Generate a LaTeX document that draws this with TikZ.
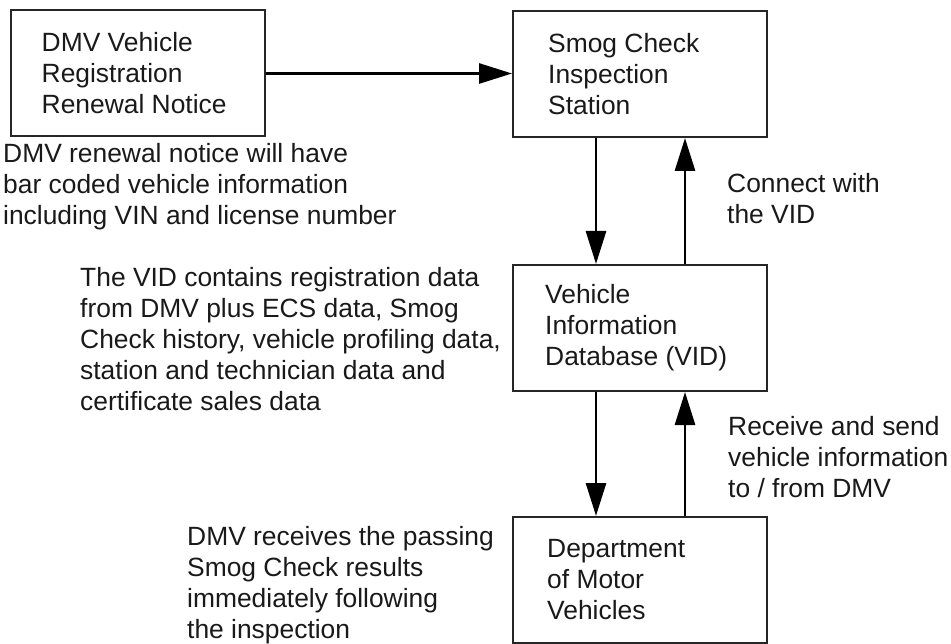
\documentclass[tikz,border=0pt]{standalone}
\usepackage{fontspec}
\setmainfont{Liberation Sans}
\usetikzlibrary{arrows.meta}
\begin{document}
\begin{tikzpicture}[x=1pt,y=-1pt,
  box/.style={draw=black!85, line width=2pt, minimum width=254pt, minimum height=126pt, inner sep=0pt},
  txt/.style={align=left, inner sep=0pt, font=\fontsize{26.4}{31}\selectfont, text=black!90},
  arr/.style={line width=2.8pt, -{Triangle[length=33pt,width=20pt]}}]
\useasboundingbox (0,0) rectangle (951,644);
% boxes
\node[box] (dmv) at (137.5,73.5) {};
\node[box] (sm) at (640,74) {};
\node[box] (vid) at (640,328) {};
\node[box] (dept) at (640,580) {};
% box texts
\node[txt, anchor=west] (dmvt) at ([xshift=32pt]dmv.west) {DMV Vehicle\\Registration\\Renewal Notice};
\node[txt, anchor=west] (smt) at ([xshift=36pt]sm.west) {Smog Check\\Inspection\\Station};
\node[txt, anchor=west] (vidt) at ([xshift=33pt]vid.west) {Vehicle\\Information\\Database (VID)};
\node[txt, anchor=west] (deptt) at ([xshift=35pt]dept.west) {Department\\of Motor\\Vehicles};
% notes (base = baseline of last line)
\node[txt, anchor=base west] (n1) at (3,225) {DMV renewal notice will have\\bar coded vehicle information\\including VIN and license number};
\node[txt, anchor=base west] (n2) at (80,410) {The VID contains registration data\\from DMV plus ECS data, Smog\\Check history, vehicle profiling data,\\station and technician data and\\certificate sales data};
\node[txt, anchor=base west] (n3) at (187,638) {DMV receives the passing\\Smog Check results\\immediately following\\the inspection};
\node[txt, anchor=base west] (n4) at (727,224) {Connect with\\the VID};
\node[txt, anchor=base west] (n5) at (728,497) {Receive and send\\vehicle information\\to / from DMV};
% arrows
\draw[arr] (dmv.east) -- (sm.west |- dmv.east);
\draw[arr] ([xshift=-44pt]sm.south) -- ([xshift=-44pt]vid.north);
\draw[arr] ([xshift=45pt]vid.north) -- ([xshift=45pt]sm.south);
\draw[arr] ([xshift=-44pt]vid.south) -- ([xshift=-44pt]dept.north);
\draw[arr] ([xshift=45pt]dept.north) -- ([xshift=45pt]vid.south);
\end{tikzpicture}
\end{document}
